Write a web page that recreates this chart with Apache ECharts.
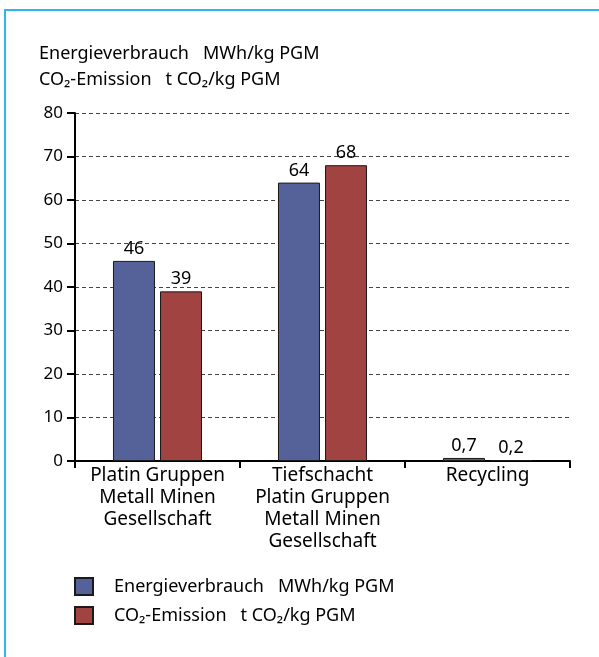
<!DOCTYPE html>
<html>
<head>
<meta charset="utf-8">
<script src="https://cdn.jsdelivr.net/npm/echarts@6/dist/echarts.min.js"></script>
<style>
  html, body { margin: 0; padding: 0; background: #fff; }
  #frame { position: absolute; left: 4px; top: 9px; width: 620px; height: 700px;
           border-top: 2px solid #2fb6ec; border-left: 2px solid #2fb6ec; }
  #chart { position: absolute; left: 0; top: 0; width: 599px; height: 657px; }
</style>
</head>
<body>
<div id="frame"></div>
<div id="chart"></div>
<script>
const categories = [
  'Platin Gruppen\nMetall Minen\nGesellschaft',
  'Tiefschacht\nPlatin Gruppen\nMetall Minen\nGesellschaft',
  'Recycling'
];
const seriesNames = ['Energieverbrauch   MWh/kg PGM', 'CO\u2082-Emission   t CO\u2082/kg PGM'];
const energyValues = [46, 64, 0.7];
const co2Values = [39, 68, 0.2];
const yTicks = [0, 10, 20, 30, 40, 50, 60, 70, 80];

const FONT = 'Noto Sans';
const TXT = '#000';
const fmt = v => String(v).replace('.', ',');

const chart = echarts.init(document.getElementById('chart'), null, { renderer: 'canvas' });
chart.setOption({
  backgroundColor: 'transparent',
  animation: false,
  textStyle: { fontFamily: FONT, color: TXT },
  title: {
    text: seriesNames[0] + '\n' + seriesNames[1],
    left: 39, top: 41, padding: 0,
    textStyle: { fontFamily: FONT, fontSize: 18, fontWeight: 'normal', color: TXT, lineHeight: 26 }
  },
  legend: {
    orient: 'vertical', left: 74, top: 577, padding: 0,
    itemWidth: 18, itemHeight: 17, itemGap: 10, icon: 'rect',
    textStyle: { fontFamily: FONT, fontSize: 18, color: TXT, lineHeight: 17, padding: [0, 0, 0, 16] },
    data: seriesNames
  },
  grid: { left: 75, right: 29, top: 113, bottom: 196, containLabel: false },
  xAxis: {
    type: 'category', data: categories,
    axisLine: { lineStyle: { color: '#000', width: 2 } },
    axisTick: { show: true, length: 7, lineStyle: { color: '#000', width: 2 }, alignWithLabel: false },
    axisLabel: { fontFamily: FONT, fontSize: 19, color: TXT, lineHeight: 22, margin: 4, interval: 0 }
  },
  yAxis: {
    type: 'value', min: 0, max: 80, interval: 10,
    axisLine: { show: true, lineStyle: { color: '#000', width: 2 } },
    axisTick: { show: true, length: 8, lineStyle: { color: '#000', width: 2 } },
    axisLabel: { fontFamily: FONT, fontSize: 17, color: TXT, margin: 12,
      formatter: v => yTicks.includes(v) ? String(v) : '' },
    splitLine: { show: true, lineStyle: { color: '#444', width: 1, type: [4, 3] } }
  },
  series: [
    {
      name: seriesNames[0], type: 'bar', data: energyValues,
      barWidth: 42, barGap: '12%',
      itemStyle: { color: '#546299', borderColor: '#1a1a1a', borderWidth: 1 },
      label: { show: true, position: 'top', distance: 3, fontFamily: FONT, fontSize: 18, color: TXT,
        formatter: p => fmt(p.value) }
    },
    {
      name: seriesNames[1], type: 'bar', data: co2Values,
      barWidth: 42,
      itemStyle: { color: '#a04341', borderColor: '#1a1a1a', borderWidth: 1 },
      label: { show: true, position: 'top', distance: 3, fontFamily: FONT, fontSize: 18, color: TXT,
        formatter: p => fmt(p.value) }
    }
  ]
});
</script>
</body>
</html>
